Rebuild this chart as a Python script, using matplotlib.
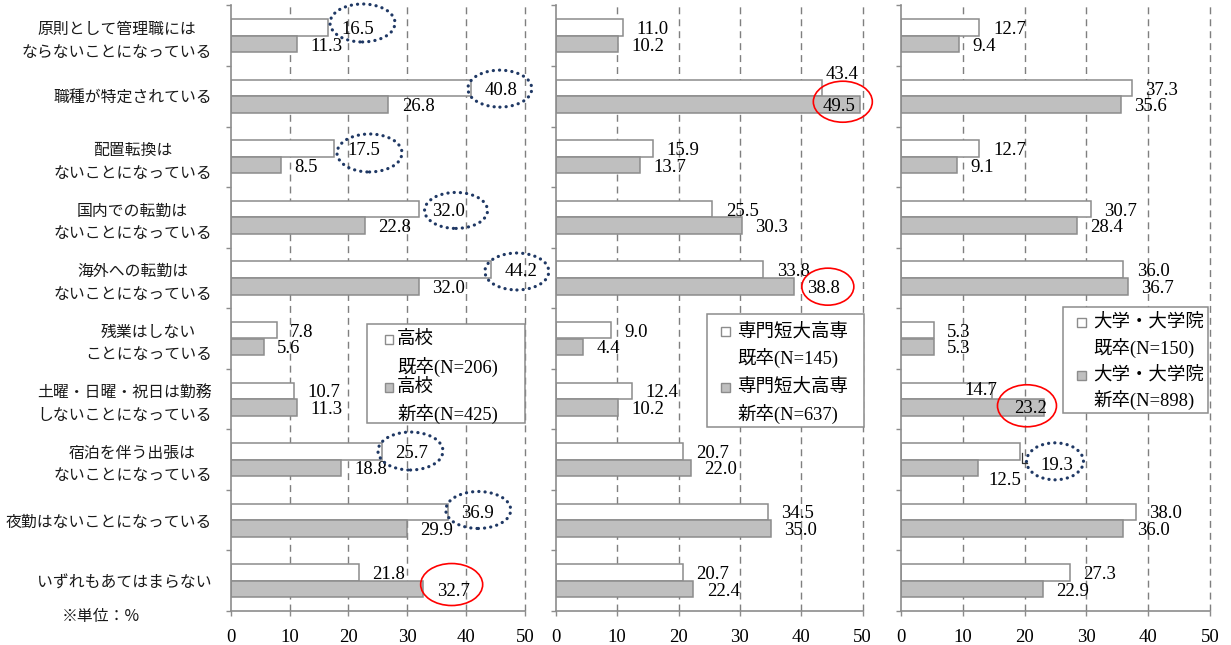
import numpy as np
import matplotlib
matplotlib.use("Agg")
import matplotlib.pyplot as plt
import matplotlib.transforms as mtransforms
from matplotlib.patches import Ellipse, Rectangle
from matplotlib.lines import Line2D

# ---------------------------------------------------------------- data
categories = [
    "原則として管理職には\nならないことになっている",
    "職種が特定されている",
    "配置転換は\nないことになっている",
    "国内での転勤は\nないことになっている",
    "海外への転勤は\nないことになっている",
    "残業はしない\nことになっている",
    "土曜・日曜・祝日は勤務\nしないことになっている",
    "宿泊を伴う出張は\nないことになっている",
    "夜勤はないことになっている",
    "いずれもあてはまらない",
]

groups = ["高校", "専門短大高専", "大学・大学院"]
n_prev = [206, 145, 150]
n_new = [425, 637, 898]

hs_prev = [16.5, 40.8, 17.5, 32.0, 44.2, 7.8, 10.7, 25.7, 36.9, 21.8]
hs_new = [11.3, 26.8, 8.5, 22.8, 32.0, 5.6, 11.3, 18.8, 29.9, 32.7]
jc_prev = [11.0, 43.4, 15.9, 25.5, 33.8, 9.0, 12.4, 20.7, 34.5, 20.7]
jc_new = [10.2, 49.5, 13.7, 30.3, 38.8, 4.4, 10.2, 22.0, 35.0, 22.4]
univ_prev = [12.7, 37.3, 12.7, 30.7, 36.0, 5.3, 14.7, 19.3, 38.0, 27.3]
univ_new = [9.4, 35.6, 9.1, 28.4, 36.7, 5.3, 23.2, 12.5, 36.0, 22.9]

x_ticks = [0, 10, 20, 30, 40, 50]
unit_note = "※単位：%"

panels = [(hs_prev, hs_new), (jc_prev, jc_new), (univ_prev, univ_new)]

# ---------------------------------------------------------------- style
W, H, DPI = 1231, 645, 100
SERIF = ["Liberation Serif", "Noto Sans CJK JP"]
JP = ["Noto Sans CJK JP"]
EDGE = "#8c8c8c"
FILL_NEW = "#bfbfbf"
GRID = "#7f7f7f"
NAVY = "#1f3864"
RED = "#ff0000"
NUM_SIZE = 13.5
CAT_SIZE = 11.4
LEG_SIZE = 13.3

PLOT_TOP, PLOT_BOTTOM = 5.5, 611.0
panel_x = [(230.7, 525.0), (555.7, 862.7), (901.0, 1210.0)]
BAR_H = 0.273
BAR_SHIFT = 0.137

PT = 0.72  # points per pixel at 100 dpi

# per-label placement tweaks: (panel, category, series) -> (dx px, dy px, ha)
label_tweaks = {
    (1, 1, 0): (3.5, -13.7, "left"),
    (1, 1, 1): (-4.6, 2.3, "right"),
    (2, 6, 0): (5.0, 0.0, "right"),
    (2, 6, 1): (2.3, 1.5, "right"),
    (2, 7, 0): (19.7, 14.0, "left"),
    (2, 7, 1): (9.7, 12.7, "left"),
}

# highlight rings: (panel, category, series, dx px, dy px, w px, h px, kind)
highlights = [
    (0, 0, 0, 34.7, -4.5, 65, 38, "dot"),
    (0, 1, 0, 29.0, 0.6, 64, 37, "dot"),
    (0, 2, 0, 35.8, 4.4, 65, 38, "dot"),
    (0, 3, 0, 37.0, 1.3, 63, 36, "dot"),
    (0, 4, 0, 26.0, 1.8, 64, 37, "dot"),
    (0, 7, 0, 28.5, -0.3, 65, 38, "dot"),
    (0, 8, 0, 30.4, -1.9, 65, 37, "dot"),
    (0, 9, 1, 28.5, -4.5, 62, 42, "ring"),
    (1, 1, 1, -16.8, -2.9, 59, 41, "ring"),
    (1, 4, 1, 33.9, 0.4, 52, 37, "ring"),
    (2, 6, 1, -17.4, -1.6, 59, 42, "ring"),
    (2, 7, 0, 34.7, 10.0, 57, 37, "dot"),
]

# legend boxes in pixel units: box (x0, y0, x1, y1), swatch x, text x, row centres
legend_layout = [
    ((366.7, 324.0, 525.0, 423.3), 384.5, 397.0, (339.3, 366.7, 387.3, 413.7)),
    ((707.3, 314.0, 864.0, 426.7), 721.0, 737.5, (331.7, 358.3, 387.3, 414.0)),
    ((1063.3, 306.7, 1208.3, 412.7), 1077.0, 1093.0, (322.3, 348.3, 375.0, 400.0)),
]


def fx(x):
    return x / W


def fy(y):
    return 1 - y / H


def anchored(ax, x, y):
    """Transform whose origin is the data point (x, y) and whose unit is one inch."""
    return fig.dpi_scale_trans + mtransforms.ScaledTranslation(x, y, ax.transData)


fig = plt.figure(figsize=(W / DPI, H / DPI), dpi=DPI)
fig.patch.set_facecolor("white")

y = np.arange(len(categories))
axes = []
for p, ((prev, new), (x0, x1)) in enumerate(zip(panels, panel_x)):
    ax = fig.add_axes([fx(x0), fy(PLOT_BOTTOM), (x1 - x0) / W,
                       (PLOT_BOTTOM - PLOT_TOP) / H])
    axes.append(ax)
    ax.barh(y - BAR_SHIFT, prev, height=BAR_H, color="white",
            edgecolor=EDGE, linewidth=1.1, zorder=2)
    ax.barh(y + BAR_SHIFT, new, height=BAR_H, color=FILL_NEW,
            edgecolor=EDGE, linewidth=1.1, zorder=2)
    ax.set_xlim(x_ticks[0], x_ticks[-1])
    ax.set_ylim(len(categories) - 0.5, -0.5)

    for s in ("top", "right"):
        ax.spines[s].set_visible(False)
    for s in ("left", "bottom"):
        ax.spines[s].set_color(EDGE)
        ax.spines[s].set_linewidth(1.2)

    ax.set_xticks(x_ticks)
    ax.set_xticklabels([str(t) for t in x_ticks], family=SERIF,
                       fontsize=NUM_SIZE)
    ax.tick_params(axis="x", direction="out", length=3.6, width=1.0,
                   color=EDGE, pad=9.5)
    ax.set_yticks(y)
    ax.set_yticks(np.arange(-0.5, len(categories), 1.0), minor=True)
    ax.tick_params(axis="y", which="major", length=0, pad=13.5)
    ax.tick_params(axis="y", which="minor", direction="out", length=3.6,
                   width=1.0, color=EDGE)
    if p == 0:
        ax.set_yticklabels(categories, family=JP, fontsize=CAT_SIZE,
                           color="#1a1a1a")
        for lab in ax.get_yticklabels():
            lab.set_multialignment("center")
            lab.set_linespacing(1.45)
    else:
        ax.set_yticklabels([])

    for t in x_ticks[1:]:
        ax.axvline(t, color=GRID, linewidth=1.0, linestyle=(0, (5.0, 3.6)),
                   zorder=1, clip_on=False)

    # value labels
    for s, (vals, dy_bar) in enumerate(((prev, -BAR_SHIFT), (new, BAR_SHIFT))):
        for i, v in enumerate(vals):
            dx, dy, ha = label_tweaks.get((p, i, s), (13.5, 2.0, "left"))
            ax.annotate(f"{v:.1f}", xy=(v, i + dy_bar),
                        xytext=(dx * PT, -dy * PT), textcoords="offset points",
                        ha=ha, va="center", family=SERIF, fontsize=NUM_SIZE,
                        color="black", annotation_clip=False, zorder=5)

# highlight rings around selected values
for p, i, s, dx, dy, w, h, kind in highlights:
    ax = axes[p]
    v = panels[p][s][i]
    yb = i + (BAR_SHIFT if s else -BAR_SHIFT)
    if kind == "dot":
        ell = Ellipse((dx / DPI, -dy / DPI), w / DPI, h / DPI, fill=False,
                      edgecolor=NAVY, linewidth=2.3,
                      linestyle=(0, (0.05, 1.9)),
                      transform=anchored(ax, v, yb))
        ell.set_capstyle("round")
    else:
        ell = Ellipse((dx / DPI, -dy / DPI), w / DPI, h / DPI, fill=False,
                      edgecolor=RED, linewidth=1.2,
                      transform=anchored(ax, v, yb))
    fig.add_artist(ell)

# leader line from the 19.3 bar to its moved label
ax = axes[2]
lead = Line2D(np.array([1.4, 1.4, 6.4]) / DPI, -np.array([1.4, 12.0, 12.0]) / DPI,
              color="#333333", linewidth=0.9,
              transform=anchored(ax, univ_prev[7], 7 - BAR_SHIFT))
fig.add_artist(lead)

# legends
SQ = 9.0
for g, name in enumerate(groups):
    (bx0, by0, bx1, by1), sqx, tx, rows = legend_layout[g]
    fig.add_artist(Rectangle((fx(bx0), fy(by1)), (bx1 - bx0) / W,
                             (by1 - by0) / H, transform=fig.transFigure,
                             facecolor="white", edgecolor=EDGE,
                             linewidth=1.1, zorder=3))
    entries = [("white", f"既卒(N={n_prev[g]})", rows[0], rows[1]),
               (FILL_NEW, f"新卒(N={n_new[g]})", rows[2], rows[3])]
    for fc, sub, r1, r2 in entries:
        fig.add_artist(Rectangle((fx(sqx), fy(r1 + SQ / 2)), SQ / W, SQ / H,
                                 transform=fig.transFigure, facecolor=fc,
                                 edgecolor=EDGE, linewidth=1.0, zorder=4))
        fig.text(fx(tx), fy(r1), name, family=SERIF, fontsize=LEG_SIZE,
                 ha="left", va="center", zorder=4)
        fig.text(fx(tx), fy(r2), sub, family=SERIF, fontsize=LEG_SIZE,
                 ha="left", va="center", zorder=4)

fig.text(fx(61.7), fy(617.0), unit_note, family=JP, fontsize=CAT_SIZE,
         ha="left", va="center", color="#1a1a1a")

fig.savefig("out.png", dpi=DPI, facecolor="white")
